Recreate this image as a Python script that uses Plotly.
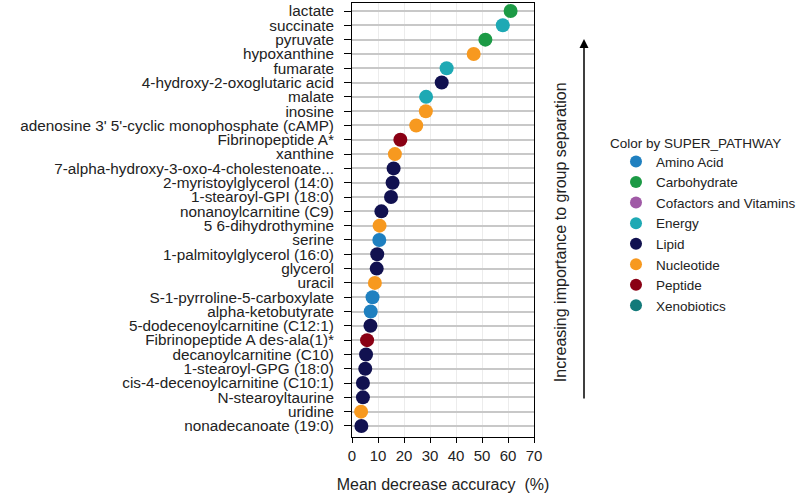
import plotly.graph_objects as go

metabolites = [
    "lactate", "succinate", "pyruvate", "hypoxanthine", "fumarate",
    "4-hydroxy-2-oxoglutaric acid", "malate", "inosine",
    "adenosine 3' 5'-cyclic monophosphate (cAMP)", "Fibrinopeptide A*",
    "xanthine", "7-alpha-hydroxy-3-oxo-4-cholestenoate...",
    "2-myristoylglycerol (14:0)", "1-stearoyl-GPI (18:0)",
    "nonanoylcarnitine (C9)", "5 6-dihydrothymine", "serine",
    "1-palmitoylglycerol (16:0)", "glycerol", "uracil",
    "S-1-pyrroline-5-carboxylate", "alpha-ketobutyrate",
    "5-dodecenoylcarnitine (C12:1)", "Fibrinopeptide A des-ala(1)*",
    "decanoylcarnitine (C10)", "1-stearoyl-GPG (18:0)",
    "cis-4-decenoylcarnitine (C10:1)", "N-stearoyltaurine", "uridine",
    "nonadecanoate (19:0)",
]
mda = [
    61.0, 58.0, 51.3, 46.8, 36.4, 34.5, 28.5, 28.4, 24.7, 18.6,
    16.5, 16.0, 15.6, 15.0, 11.3, 10.6, 10.5, 9.7, 9.5, 8.8,
    7.9, 7.2, 7.1, 5.8, 5.4, 5.1, 4.2, 4.2, 3.5, 3.6,
]
pathway = [
    "Carbohydrate", "Energy", "Carbohydrate", "Nucleotide", "Energy",
    "Lipid", "Energy", "Nucleotide", "Nucleotide", "Peptide",
    "Nucleotide", "Lipid", "Lipid", "Lipid", "Lipid",
    "Nucleotide", "Amino Acid", "Lipid", "Lipid", "Nucleotide",
    "Amino Acid", "Amino Acid", "Lipid", "Peptide", "Lipid",
    "Lipid", "Lipid", "Lipid", "Nucleotide", "Lipid",
]
pathway_names = ["Amino Acid", "Carbohydrate", "Cofactors and Vitamins", "Energy",
                 "Lipid", "Nucleotide", "Peptide", "Xenobiotics"]
pathway_colors = ["#1f80c0", "#1c9a45", "#a05aa6", "#1ea9b4",
                  "#111150", "#f7991f", "#8a0014", "#137a7a"]
x_ticks = [0, 10, 20, 30, 40, 50, 60, 70]

order = list(reversed(metabolites))  # bottom to top

fig = go.Figure()
for name, col in zip(pathway_names, pathway_colors):
    xs = [v for v, p in zip(mda, pathway) if p == name]
    ys = [m for m, p in zip(metabolites, pathway) if p == name]
    if not xs:
        xs, ys = [None], [None]
    fig.add_trace(go.Scatter(
        x=xs, y=ys, mode="markers", name=name,
        marker=dict(color=col, size=14, line=dict(width=0)),
    ))

fig.update_layout(
    width=800, height=495,
    margin=dict(l=352, r=266, t=3, b=58, autoexpand=False),
    paper_bgcolor="white", plot_bgcolor="white",
    font=dict(family="Liberation Sans, Arial, sans-serif", color="#222222"),
    showlegend=True,
    legend=dict(
        font=dict(size=13.5),
        x=(616 - 352) / 182, xanchor="left", y=0.67, yanchor="top",
        itemsizing="constant", bgcolor="rgba(0,0,0,0)",
    ),
    xaxis=dict(
        range=[0, 70], tickvals=x_ticks, ticks="outside", ticklen=5,
        tickcolor="black", showline=True, linecolor="black", linewidth=1,
        mirror=True, showgrid=True, gridcolor="#ececec", gridwidth=1,
        zeroline=False, tickfont=dict(size=15), automargin=False,
        title=dict(text="Mean decrease accuracy  (%)", font=dict(size=16), standoff=15),
    ),
    yaxis=dict(
        type="category", categoryorder="array", categoryarray=order,
        tickmode="linear", tick0=0, dtick=1,
        range=[-0.77, 29.56], ticks="outside", ticklen=7, tickcolor="black",
        ticklabelstandoff=7,
        showline=True, linecolor="black", linewidth=1, mirror=True,
        showgrid=True, gridcolor="#c8c8c8", gridwidth=1.5,
        tickfont=dict(size=15.3), zeroline=False, automargin=False,
    ),
)

fig.add_annotation(
    xref="paper", yref="paper", x=(608 - 352) / 182, y=(437 - 143) / 434,
    xanchor="left", yanchor="middle",
    text="Color by SUPER_PATHWAY", showarrow=False,
    font=dict(size=13.5, color="#222222"),
)
fig.add_annotation(
    xref="paper", yref="paper", x=(560 - 352) / 182, y=0.472,
    xanchor="center", yanchor="middle",
    text="Increasing importance to group separation", textangle=-90,
    showarrow=False, font=dict(size=16, color="#222222"),
)
fig.add_annotation(
    xref="paper", yref="paper", x=(584 - 352) / 182, y=(437 - 39) / 434,
    ax=0, ay=361, axref="pixel", ayref="pixel", text="", showarrow=True,
    arrowhead=2, arrowsize=1.2, arrowwidth=1.5, arrowcolor="black",
)

fig.write_html("out.html", config={"displayModeBar": False},
               post_script="document.body.style.margin='0';")
